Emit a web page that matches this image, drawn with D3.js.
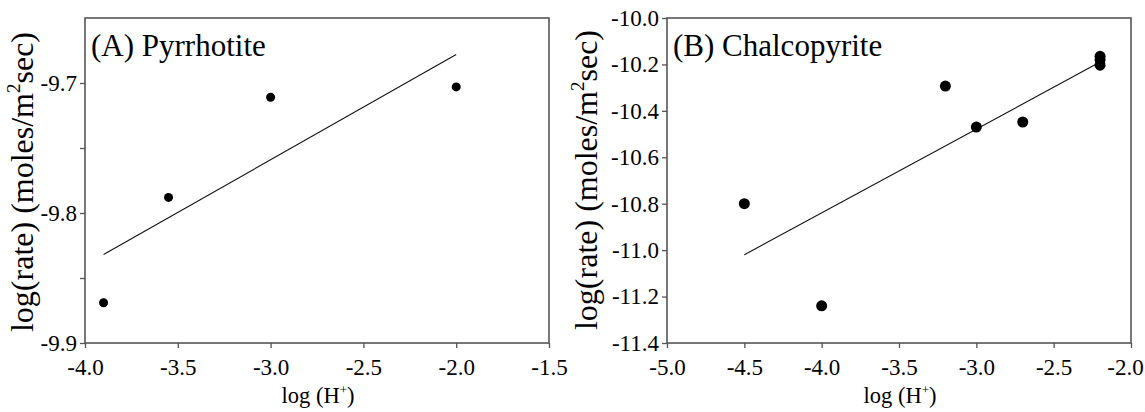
<!DOCTYPE html>
<html>
<head>
<meta charset="utf-8">
<script src="https://cdn.jsdelivr.net/npm/d3@7"></script>
<style>
  html, body { margin: 0; padding: 0; background: #fff; }
  svg { display: block; }
  svg text { font-family: "Liberation Serif", "Times New Roman", Times, serif; }
</style>
</head>
<body>
<svg id="chart" width="1145" height="412"></svg>
<script>
// Panel A: pyrrhotite dissolution rate vs. log(H+)
const pyrLogH = [-3.9, -3.55, -3.0, -2.0];
const pyrRate = [-9.869, -9.788, -9.711, -9.703];
const pyrFitLogH = [-3.9, -2.0];
const pyrFitRate = [-9.832, -9.678];
const pyrXTicks = [-4.0, -3.5, -3.0, -2.5, -2.0, -1.5];
const pyrYTicks = [-9.9, -9.8, -9.7];
const pyrYMinor = [-9.85, -9.75];

// Panel B: chalcopyrite dissolution rate vs. log(H+)
const chalLogH = [-4.5, -4.0, -3.2, -3.0, -2.7, -2.2, -2.2, -2.2];
const chalRate = [-10.80, -11.24, -10.293, -10.47, -10.448, -10.165, -10.18, -10.203];
const chalFitLogH = [-4.5, -2.2];
const chalFitRate = [-11.02, -10.19];
const chalXTicks = [-5.0, -4.5, -4.0, -3.5, -3.0, -2.5, -2.0];
const chalYTicks = [-11.4, -11.2, -11.0, -10.8, -10.6, -10.4, -10.2, -10.0];

const SERIF = "'Liberation Serif', 'Times New Roman', Times, serif";
const svg = d3.select("#chart");
const fmt = d => d.toFixed(1);

function drawPanel(p) {
  const x = d3.scaleLinear().domain(p.xDomain).range([p.left, p.right]);
  const y = d3.scaleLinear().domain(p.yDomain).range([p.bottom, p.top]);
  const g = svg.append("g");

  const xAxis = d3.axisBottom(x).tickValues(p.xTicks).tickFormat(fmt)
    .tickSize(5).tickPadding(11).tickSizeOuter(0);
  g.append("g").attr("class", "axis").attr("transform", `translate(0,${p.bottom})`).call(xAxis);

  const yAxis = d3.axisLeft(y).tickValues(p.yTicks).tickFormat(fmt)
    .tickSize(5).tickPadding(3).tickSizeOuter(0);
  g.append("g").attr("class", "axis").attr("transform", `translate(${p.left},0)`).call(yAxis);

  if (p.yMinor) {
    const yMinorAxis = d3.axisLeft(y).tickValues(p.yMinor).tickFormat("")
      .tickSize(5).tickSizeOuter(0);
    g.append("g").attr("class", "axis").attr("transform", `translate(${p.left},0)`).call(yMinorAxis);
  }

  g.selectAll(".axis").attr("font-family", SERIF).attr("font-size", 23);
  g.selectAll(".domain").remove();
  g.selectAll(".tick line").attr("stroke", "#555").attr("stroke-width", 1.3);
  g.selectAll(".tick text")
    .style("font-family", SERIF).style("font-size", "23px").style("fill", "#000");

  // keep the last x label inside the page edge
  if (p.lastXShift) {
    g.selectAll(".tick text").filter(d => d === p.xTicks[p.xTicks.length - 1])
      .attr("dx", p.lastXShift);
  }

  // frame
  g.append("rect")
    .attr("x", p.left).attr("y", p.top)
    .attr("width", p.right - p.left).attr("height", p.bottom - p.top)
    .attr("fill", "none").attr("stroke", "#555").attr("stroke-width", 1.6);

  // fitted line
  const fit = p.fitX.map((v, i) => [v, p.fitY[i]]);
  g.append("path")
    .datum(fit)
    .attr("d", d3.line().x(d => x(d[0])).y(d => y(d[1])))
    .attr("fill", "none").attr("stroke", "#111").attr("stroke-width", 1.1);

  // data points
  g.selectAll("circle.pt")
    .data(p.xs.map((v, i) => [v, p.ys[i]]))
    .join("circle")
    .attr("class", "pt")
    .attr("cx", d => x(d[0])).attr("cy", d => y(d[1]))
    .attr("r", p.r).attr("fill", "#000");

  // panel title
  g.append("text")
    .attr("x", p.left + 6).attr("y", p.top + 38)
    .style("font-family", SERIF).style("font-size", "31px")
    .text(p.title);

  // x-axis title
  const xt = g.append("text")
    .attr("x", (p.left + p.right) / 2 + 1).attr("y", 403)
    .attr("text-anchor", "middle")
    .style("font-family", SERIF).style("font-size", "22.5px");
  xt.append("tspan").text("log (H");
  xt.append("tspan").style("font-size", "13px").attr("dy", -9).text("+");
  xt.append("tspan").attr("dy", 9).text(")");

  // y-axis title
  const yt = g.append("text")
    .attr("transform", `translate(${p.yLabelX},${p.yLabelY}) rotate(-90)`)
    .attr("text-anchor", "middle")
    .style("font-family", SERIF).style("font-size", "32px");
  yt.append("tspan").text("log(rate) (moles/m");
  yt.append("tspan").style("font-size", "19px").attr("dy", -13).text("2");
  yt.append("tspan").attr("dy", 13).text("sec)");
}

drawPanel({
  left: 85, right: 549, top: 18, bottom: 343,
  xDomain: [-4.0, -1.5], yDomain: [-9.9, -9.65],
  xTicks: pyrXTicks, yTicks: pyrYTicks, yMinor: pyrYMinor,
  xs: pyrLogH, ys: pyrRate, fitX: pyrFitLogH, fitY: pyrFitRate,
  r: 4.5, title: "(A) Pyrrhotite", yLabelX: 33, yLabelY: 182
});

drawPanel({
  left: 667, right: 1131, top: 18, bottom: 343,
  xDomain: [-5.0, -2.0], yDomain: [-11.4, -10.0],
  xTicks: chalXTicks, yTicks: chalYTicks,
  xs: chalLogH, ys: chalRate, fitX: chalFitLogH, fitY: chalFitRate,
  r: 5.5, title: "(B) Chalcopyrite", yLabelX: 597, yLabelY: 180,
  lastXShift: -6
});
</script>
</body>
</html>
